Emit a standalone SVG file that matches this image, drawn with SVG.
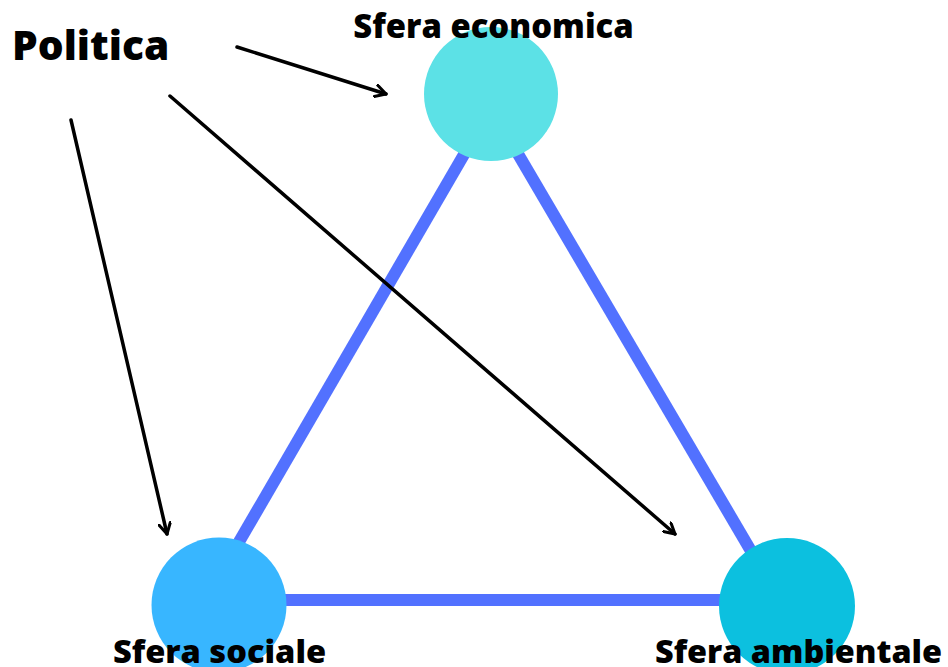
<svg xmlns="http://www.w3.org/2000/svg" width="948" height="667" viewBox="0 0 948 667">
<defs>
<style>
.lbl{font-family:"Open Sans","Noto Sans","Liberation Sans",sans-serif;font-weight:800;fill:#000}
.side{stroke:#5271FF;stroke-width:12;fill:none}
.arr{stroke:#000;stroke-width:3.5;fill:none;stroke-linecap:round;marker-end:url(#chev)}
</style>
<marker id="chev" viewBox="0 0 12 12" refX="10" refY="6" markerWidth="14" markerHeight="14" markerUnits="userSpaceOnUse" orient="auto">
<path d="M1,1 L10,6 L1,11" fill="none" stroke="#000" stroke-width="2.6" stroke-linecap="round" stroke-linejoin="round"/>
</marker>
</defs>
<rect width="948" height="667" fill="#fff"/>
<g id="connectors">
<line class="side" x1="491" y1="108" x2="207" y2="597"/>
<line class="side" x1="491" y1="108" x2="778" y2="597"/>
<line class="side" x1="207" y1="600" x2="778" y2="600"/>
<line class="arr" x1="237" y1="47" x2="386" y2="94"/>
<line class="arr" x1="170" y1="96" x2="675" y2="534"/>
<line class="arr" x1="71" y1="120" x2="167" y2="534"/>
</g>
<g id="politica">
<text class="lbl" x="12" y="60" font-size="40.7">Politica</text>
</g>
<g id="sfera-economica">
<circle cx="491" cy="94" r="67" fill="#5CE1E6"/>
<text class="lbl" x="493.5" y="38" font-size="32.8" text-anchor="middle">Sfera economica</text>
</g>
<g id="sfera-sociale">
<circle cx="219" cy="605" r="67.5" fill="#38B6FF"/>
<text class="lbl" x="219.5" y="663" font-size="32.6" text-anchor="middle">Sfera sociale</text>
</g>
<g id="sfera-ambientale">
<circle cx="787" cy="606" r="68" fill="#0CC0DF"/>
<text class="lbl" x="798.5" y="663" font-size="32.4" text-anchor="middle">Sfera ambientale</text>
</g>
</svg>
